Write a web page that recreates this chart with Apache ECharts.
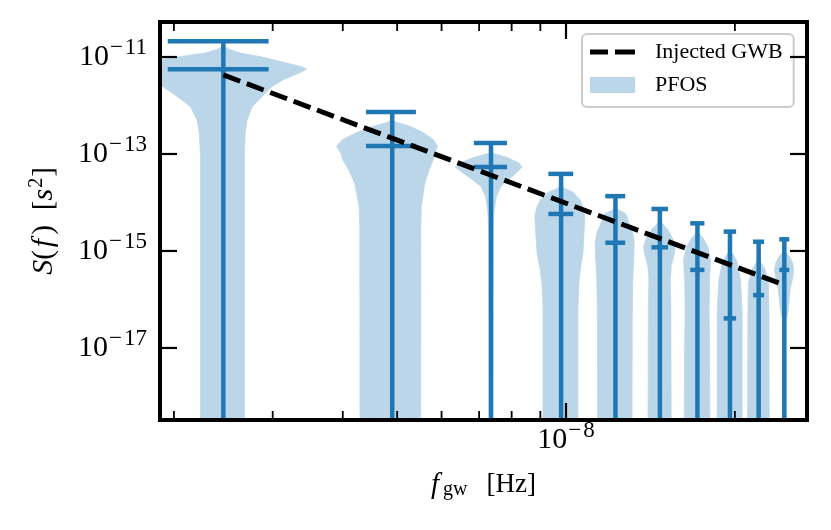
<!DOCTYPE html>
<html>
<head>
<meta charset="utf-8">
<script src="https://cdn.jsdelivr.net/npm/echarts@6/dist/echarts.min.js"></script>
<style>
  html, body { margin: 0; padding: 0; background: #fff; }
  #chart { width: 831px; height: 530px; }
</style>
</head>
<body>
<div id="chart"></div>
<script>
// frequency bins of the violins, Hz
const freqs = [2.45e-9, 4.90e-9, 7.35e-9, 9.80e-9, 1.225e-8, 1.47e-8, 1.715e-8, 1.96e-8, 2.205e-8, 2.45e-8];
// S(f) in s^2: top of each violin, median, bottom (bottoms fall below the axis)
const maxVals = [2.12e-11, 7.35e-13, 1.69e-13, 3.89e-14, 1.35e-14, 7.35e-15, 3.72e-15, 2.51e-15, 1.55e-15, 1.74e-15];
const medianVals = [5.6e-12, 1.46e-13, 5.4e-14, 5.8e-15, 1.48e-15, 1.19e-15, 4.07e-16, 4.07e-17, 1.23e-16, 4.07e-16];
const minVals = [1e-20, 1e-20, 1e-20, 1e-20, 1e-20, 1e-20, 1e-20, 1e-20, 1e-20, 1e-20];
// violin outlines: [log10 S, relative half width]
const profiles = [
  [[-10.67, 0], [-10.80, 0.02], [-10.85, 0.07], [-10.92, 0.18], [-11.0, 0.42], [-11.1, 0.66], [-11.2, 0.93], [-11.25, 1.0], [-11.34, 0.88], [-11.47, 0.68], [-11.61, 0.54], [-11.82, 0.42], [-12.02, 0.31], [-12.3, 0.25], [-12.57, 0.23], [-13.0, 0.22], [-19.5, 0.22]],
  [[-12.134, 0], [-12.30, 0.03], [-12.34, 0.07], [-12.44, 0.4], [-12.57, 0.69], [-12.71, 0.91], [-12.84, 1.0], [-12.99, 0.93], [-13.12, 0.9], [-13.33, 0.8], [-13.6, 0.7], [-14.09, 0.62], [-14.5, 0.61], [-19.5, 0.606]],
  [[-12.773, 0], [-12.95, 0.02], [-12.99, 0.08], [-13.07, 0.5], [-13.19, 0.9], [-13.27, 1.0], [-13.40, 0.78], [-13.54, 0.52], [-13.67, 0.3], [-13.88, 0.16], [-14.22, 0.09], [-14.6, 0.07], [-19.5, 0.05]],
  [[-13.41, 0], [-13.62, 0.02], [-13.70, 0.1], [-13.79, 0.5], [-13.95, 0.8], [-14.09, 0.92], [-14.28, 1.0], [-14.6, 0.97], [-15.04, 0.92], [-15.4, 0.8], [-15.74, 0.73], [-16.2, 0.7], [-19.5, 0.7]],
  [[-13.87, 0], [-14.10, 0.02], [-14.155, 0.15], [-14.22, 0.5], [-14.29, 0.59], [-14.42, 0.7], [-14.63, 0.9], [-14.83, 0.98], [-15.2, 0.95], [-15.6, 0.9], [-16.5, 0.87], [-19.5, 0.86]],
  [[-14.134, 0], [-14.35, 0.02], [-14.40, 0.08], [-14.49, 0.3], [-14.55, 0.47], [-14.77, 0.83], [-14.92, 0.95], [-15.05, 0.9], [-15.32, 0.7], [-15.6, 0.65], [-16.2, 0.68], [-19.5, 0.7]],
  [[-14.43, 0], [-14.60, 0.02], [-14.63, 0.08], [-14.73, 0.4], [-14.92, 0.75], [-15.19, 0.95], [-15.6, 0.87], [-16.28, 0.84], [-17.0, 0.88], [-19.5, 0.91]],
  [[-14.60, 0], [-14.97, 0.02], [-15.01, 0.08], [-15.11, 0.35], [-15.24, 0.6], [-15.6, 0.87], [-16.28, 1.0], [-19.5, 1.0]],
  [[-14.81, 0], [-15.15, 0.02], [-15.19, 0.08], [-15.29, 0.35], [-15.39, 0.6], [-15.66, 0.9], [-16.28, 0.95], [-19.5, 0.98]],
  [[-14.76, 0], [-14.97, 0.02], [-15.01, 0.08], [-15.11, 0.5], [-15.24, 0.84], [-15.39, 0.97], [-15.55, 0.85], [-15.80, 0.59], [-16.0, 0.5], [-16.28, 0.35], [-16.45, 0.12], [-16.6, 0.04], [-19.5, 0.04]]
];
// injected GWB power law, end points
const gwbFreqs = [2.45e-9, 2.45e-8];
const gwbVals = [4.27e-12, 1.98e-16];
// axis ranges and ticks
const xRange = [1.889e-9, 2.689e-8];
const yRange = [3.27e-19, 5.27e-11];
const xMajorTicks = [1e-8];
const xMinorTicks = [2e-9, 3e-9, 4e-9, 5e-9, 6e-9, 7e-9, 8e-9, 9e-9, 2e-8];
const yMajorTicks = [1e-11, 1e-13, 1e-15, 1e-17];

const SERIF = '"Liberation Serif", "DejaVu Serif", serif';
const C0 = '#1f77b4';
const BODY = '#bbd6e9';
const halfW = 1e-9;   // violin half width in Hz
const capHalf = 0.5e-9;

function supLabel(v, keep) {
  const e = Math.log10(v);
  const r = Math.round(e);
  if (Math.abs(e - r) > 1e-6 || !keep(r)) return '';
  return '{b|10}{m|\u2212}{s|' + Math.abs(r) + '}';
}

function renderBody(params, api) {
  const i = params.dataIndex;
  const f = freqs[i];
  const prof = profiles[i];
  const right = prof.map(p => api.coord([f + p[1] * halfW, Math.pow(10, p[0])]));
  const left = prof.slice().reverse().map(p => api.coord([f - p[1] * halfW, Math.pow(10, p[0])]));
  return {
    type: 'polygon',
    shape: { points: right.concat(left) },
    style: { fill: BODY, stroke: BODY, lineWidth: 0.8 }
  };
}

function renderLines(params, api) {
  const i = params.dataIndex;
  const f = freqs[i];
  const st = { stroke: C0, lineWidth: 4.5 };
  const top = api.coord([f, maxVals[i]]);
  const bot = api.coord([f, minVals[i]]);
  const cap = v => {
    const a = api.coord([f - capHalf, v]);
    const b = api.coord([f + capHalf, v]);
    return { type: 'line', shape: { x1: a[0], y1: a[1], x2: b[0], y2: b[1] }, style: st };
  };
  return {
    type: 'group',
    children: [
      { type: 'line', shape: { x1: top[0], y1: top[1], x2: bot[0], y2: bot[1] }, style: st },
      cap(maxVals[i]), cap(medianVals[i]), cap(minVals[i])
    ]
  };
}

function tickRenderer(isX, len, lw) {
  return function (params, api) {
    const cs = params.coordSys;
    const st = { stroke: '#000', lineWidth: lw };
    if (isX) {
      const x = api.coord([api.value(0), 1e-15])[0];
      return { type: 'group', children: [
        { type: 'line', shape: { x1: x, y1: cs.y + cs.height, x2: x, y2: cs.y + cs.height - len }, style: st },
        { type: 'line', shape: { x1: x, y1: cs.y, x2: x, y2: cs.y + len }, style: st }
      ] };
    }
    const y = api.coord([1e-8, api.value(1)])[1];
    return { type: 'group', children: [
      { type: 'line', shape: { x1: cs.x, y1: y, x2: cs.x + len, y2: y }, style: st },
      { type: 'line', shape: { x1: cs.x + cs.width, y1: y, x2: cs.x + cs.width - len, y2: y }, style: st }
    ] };
  };
}

function renderFrame(params) {
  const cs = params.coordSys;
  return {
    type: 'rect',
    shape: { x: cs.x, y: cs.y, width: cs.width, height: cs.height },
    style: { fill: 'none', stroke: '#000', lineWidth: 4 }
  };
}

const labelRich = {
  b: { fontFamily: SERIF, fontSize: 30, lineHeight: 34, color: '#000' },
  m: { fontFamily: SERIF, fontSize: 23, lineHeight: 23, color: '#000', padding: [0, 2, 19, 1] },
  s: { fontFamily: SERIF, fontSize: 23, lineHeight: 23, color: '#000', padding: [0, 0, 19, 0] }
};

const option = {
  animation: false,
  backgroundColor: '#fff',
  grid: { left: 160, right: 24, top: 22, bottom: 110, containLabel: false },
  legend: {
    data: [
      { name: 'Injected GWB', icon: 'path://M0,0M45,16M0,5.6h18v4.8h-18zM25,5.6h20v4.8h-20z' },
      { name: 'PFOS', icon: 'rect' }
    ],
    orient: 'vertical',
    left: 582,
    top: 34,
    padding: [7, 11, 11, 8],
    itemWidth: 45,
    itemHeight: 16,
    itemGap: 11,
    selectedMode: false,
    backgroundColor: 'rgba(255,255,255,0.8)',
    borderColor: '#cccccc',
    borderWidth: 2,
    borderRadius: 5,
    textStyle: { fontFamily: SERIF, fontSize: 22, color: '#000', padding: [0, 0, 0, 15] }
  },
  xAxis: {
    type: 'log',
    logBase: 10,
    min: xRange[0],
    max: xRange[1],
    axisLine: { show: false },
    axisTick: { show: false },
    minorTick: { show: false },
    splitLine: { show: false },
    axisLabel: {
      margin: 3,
      formatter: v => supLabel(v, r => true),
      rich: labelRich
    },
    name: '{i|f}{sub|gw}{n|[Hz]}',
    nameLocation: 'middle',
    nameGap: 49,
    nameTextStyle: {
      rich: {
        i: { fontFamily: SERIF, fontStyle: 'italic', fontSize: 29, lineHeight: 32, color: '#000', padding: [0, 3, 0, 0] },
        sub: { fontFamily: SERIF, fontSize: 20, lineHeight: 20, color: '#000', padding: [10, 19, 0, 1] },
        n: { fontFamily: SERIF, fontSize: 27, lineHeight: 32, color: '#000' }
      }
    }
  },
  yAxis: {
    type: 'log',
    logBase: 10,
    min: yRange[0],
    max: yRange[1],
    axisLine: { show: false },
    axisTick: { show: false },
    minorTick: { show: false },
    splitLine: { show: false },
    axisLabel: {
      margin: 13,
      formatter: v => supLabel(v, r => Math.abs(r) % 2 === 1),
      rich: labelRich
    },
    name: '{i|S}{n|(}{f|f}{n|)}{gap|}{n|[}{i|s}{p|2}{n|]}',
    nameLocation: 'middle',
    nameRotate: 90,
    nameGap: 99,
    nameTextStyle: {
      rich: {
        i: { fontFamily: SERIF, fontStyle: 'italic', fontSize: 30, lineHeight: 34, color: '#000' },
        f: { fontFamily: SERIF, fontStyle: 'italic', fontSize: 30, lineHeight: 34, color: '#000', padding: [0, 4, 0, 3] },
        gap: { width: 15, lineHeight: 34 },
        p: { fontFamily: SERIF, fontSize: 20, lineHeight: 20, color: '#000', padding: [0, 1, 15, 1] },
        n: { fontFamily: SERIF, fontSize: 29, lineHeight: 34, color: '#000' }
      }
    }
  },
  series: [
    {
      name: 'PFOS',
      type: 'custom',
      clip: true,
      z: 2,
      itemStyle: { color: BODY },
      renderItem: renderBody,
      data: freqs.map((f, i) => [f, medianVals[i]])
    },
    {
      name: 'violin lines',
      type: 'custom',
      clip: true,
      z: 3,
      itemStyle: { color: C0 },
      renderItem: renderLines,
      data: freqs.map((f, i) => [f, maxVals[i]])
    },
    {
      name: 'Injected GWB',
      type: 'line',
      z: 4,
      symbol: 'none',
      showSymbol: false,
      itemStyle: { color: '#000' },
      lineStyle: { color: '#000', width: 5, type: [18, 7] },
      data: gwbFreqs.map((f, i) => [f, gwbVals[i]])
    },
    {
      type: 'custom', z: 6, silent: true,
      renderItem: tickRenderer(true, 17, 2.2),
      data: xMajorTicks.map(v => [v, 1e-15])
    },
    {
      type: 'custom', z: 6, silent: true,
      renderItem: tickRenderer(true, 9, 1.8),
      data: xMinorTicks.map(v => [v, 1e-15])
    },
    {
      type: 'custom', z: 6, silent: true,
      renderItem: tickRenderer(false, 17, 2.2),
      data: yMajorTicks.map(v => [1e-8, v])
    },
    {
      type: 'custom', z: 7, silent: true,
      renderItem: renderFrame,
      data: [[1e-8, 1e-15]]
    }
  ]
};

const chart = echarts.init(document.getElementById('chart'), null, { renderer: 'canvas' });
chart.setOption(option);
</script>
</body>
</html>
